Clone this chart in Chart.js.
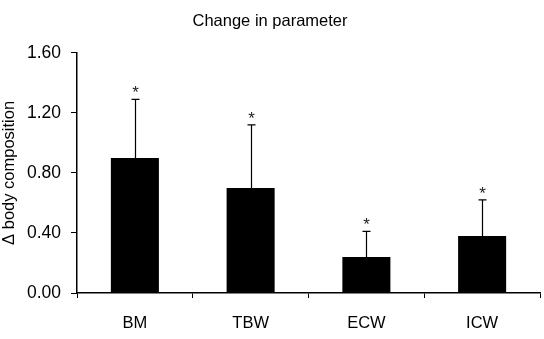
<!DOCTYPE html>
<html>
<head>
<meta charset="utf-8">
<script src="https://cdn.jsdelivr.net/npm/chart.js@4"></script>
<style>
html,body{margin:0;padding:0;background:#fff;}
#wrap{width:544px;height:339px;}
</style>
</head>
<body>
<div id="wrap"><canvas id="c" width="544" height="339"></canvas></div>
<script>
const categories = ['BM', 'TBW', 'ECW', 'ICW'];
const means = [0.90, 0.70, 0.24, 0.38];
const errors = [0.39, 0.42, 0.17, 0.24];
const yTicks = [0, 0.4, 0.8, 1.2, 1.6];
const significance = ['*', '*', '*', '*'];

const FONT = '"Liberation Sans", Arial, sans-serif';

const errorBarPlugin = {
  id: 'errorBars',
  afterDatasetsDraw(chart) {
    const ctx = chart.ctx;
    const meta = chart.getDatasetMeta(0);
    const y = chart.scales.y;
    ctx.save();
    ctx.strokeStyle = '#000';
    ctx.fillStyle = '#222';
    ctx.lineWidth = 1.2;
    meta.data.forEach((bar, i) => {
      const x = Math.round(bar.x) + 0.5;
      const yTop = y.getPixelForValue(means[i]);
      const yErr = y.getPixelForValue(means[i] + errors[i]);
      ctx.beginPath();
      ctx.moveTo(x, yTop);
      ctx.lineTo(x, yErr);
      ctx.moveTo(x - 4, yErr);
      ctx.lineTo(x + 4, yErr);
      ctx.stroke();
      ctx.font = '17px ' + FONT;
      ctx.textAlign = 'center';
      ctx.textBaseline = 'alphabetic';
      ctx.fillText(significance[i], x, yErr - 1);
    });
    ctx.restore();
  }
};

new Chart(document.getElementById('c'), {
  type: 'bar',
  data: {
    labels: categories,
    datasets: [{
      data: means,
      backgroundColor: '#000',
      borderWidth: 0,
      categoryPercentage: 1.0,
      barPercentage: 0.415
    }]
  },
  options: {
    responsive: false,
    animation: false,
    devicePixelRatio: 1,
    layout: { padding: { left: 0, right: 4, top: 0, bottom: 0 } },
    plugins: {
      legend: { display: false },
      tooltip: { enabled: false },
      title: {
        display: true,
        text: 'Change in parameter',
        color: '#000',
        font: { family: FONT, size: 16.5, weight: 'normal' },
        padding: { top: 12, bottom: 21 }
      }
    },
    scales: {
      x: {
        afterFit(s) { s.height = 46; },
        grid: { display: true, drawOnChartArea: false, drawTicks: true, tickLength: 5, color: '#000', offset: true, lineWidth: 1 },
        border: { display: true, color: '#000', width: 1.5 },
        ticks: { color: '#000', font: { family: FONT, size: 16.5 }, padding: 16 }
      },
      y: {
        min: 0,
        max: 1.6,
        afterFit(s) { s.width = 77; },
        afterBuildTicks(s) { s.ticks = yTicks.map(v => ({ value: v })); },
        grid: { display: true, drawOnChartArea: false, drawTicks: true, tickLength: 6, color: '#000', lineWidth: 1 },
        border: { display: true, color: '#000', width: 1.5 },
        ticks: {
          color: '#000',
          font: { family: FONT, size: 17.5 },
          padding: 10,
          callback: (v) => Number(v).toFixed(2)
        },
        title: {
          display: true,
          text: 'Δ body composition',
          color: '#000',
          font: { family: FONT, size: 16.5 },
          padding: { top: 0, bottom: 0 }
        }
      }
    }
  },
  plugins: [errorBarPlugin]
});
</script>
</body>
</html>
